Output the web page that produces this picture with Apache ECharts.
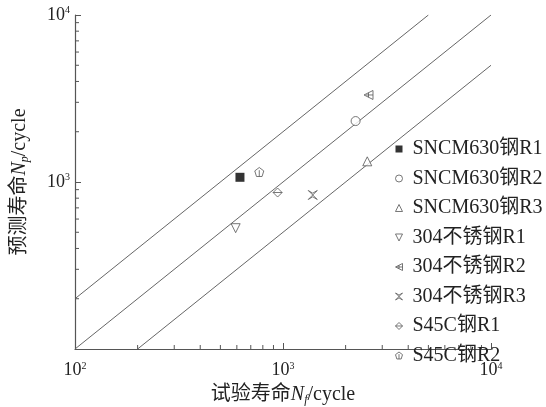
<!DOCTYPE html>
<html>
<head>
<meta charset="utf-8">
<script src="https://cdn.jsdelivr.net/npm/echarts@6/dist/echarts.min.js"></script>
<style>
  html, body { margin: 0; padding: 0; background: #fff; }
  #chart { width: 546px; height: 407px; }
</style>
</head>
<body>
<div id="chart"></div>
<script>
// Test life Nf vs predicted life Np, one array per material / method
const sncmR1 = [[621, 1067]];
const sncmR2 = [[2234, 2317]];
const sncmR3 = [[2542, 1330]];
const s304R1 = [[592, 529]];
const s304R2 = [[2577, 3320]];
const s304R3 = [[1390, 836]];
const s45cR1 = [[942, 865]];
const s45cR2 = [[769, 1148]];

// Series names (legend order)
const seriesNames = ['SNCM630钢R1', 'SNCM630钢R2', 'SNCM630钢R3', '304不锈钢R1', '304不锈钢R2', '304不锈钢R3', 'S45C钢R1', 'S45C钢R2'];

// Scatter-band lines: Np = 2Nf, Np = Nf, Np = Nf/2
const bandUpper = [[100, 200], [5000, 10000]];
const bandMiddle = [[100, 100], [10000, 10000]];
const bandLower = [[200, 100], [10000, 5000]];

// Axis ranges and minor tick positions
const axisMin = 100;
const axisMax = 10000;
const minorTicks = [200, 300, 400, 500, 600, 700, 800, 900, 2000, 3000, 4000, 5000, 6000, 7000, 8000, 9000];

const FONT = '"Liberation Serif", "Times New Roman", "Noto Sans CJK SC", serif';
const AXIS_COLOR = '#555';
const MARK_COLOR = '#555';

// Marker shapes
const SYM = {
  sq: 'rect',
  circ: 'circle',
  triUp: 'path://M5,0 L10,10 L0,10 Z',
  triDown: 'path://M0,0 L10,0 L5,10 Z',
  triLeft: 'path://M0,5 L10,0 L10,10 Z M5,2.5 L5,7.5 M2,5 L10,5',
  bow: 'path://M0,0 L10,10 M10,0 L0,10 M0,0 L5,3 L10,0 M0,10 L5,7 L10,10',
  dia: 'path://M5,0 L10,5 L5,10 L0,5 Z M0,5 L10,5',
  pent: 'path://M5,0 L10,3.8 L8.1,10 L1.9,10 L0,3.8 Z M5,3 L5,10'
};
const symbolOrder = [SYM.sq, SYM.circ, SYM.triUp, SYM.triDown, SYM.triLeft, SYM.bow, SYM.dia, SYM.pent];

const chart = echarts.init(document.getElementById('chart'), null, { renderer: 'canvas' });

function expLabel(v) {
  return '10{sup|' + Math.round(Math.log10(v)) + '}';
}

const labelRich = {
  sup: { fontFamily: FONT, fontSize: 10, color: '#222', verticalAlign: 'top', padding: [0, 0, 9, 0] }
};

const nameRich = {
  i: { fontFamily: FONT, fontSize: 20, fontStyle: 'italic', color: '#222' },
  sub: { fontFamily: FONT, fontSize: 12, fontStyle: 'italic', color: '#222', padding: [11, 0, 0, 0] }
};

function axisCommon() {
  return {
    type: 'log',
    logBase: 10,
    min: axisMin,
    max: axisMax,
    axisLine: { show: true, lineStyle: { color: AXIS_COLOR, width: 1.2 } },
    axisTick: { show: true, inside: true, length: 6, lineStyle: { color: AXIS_COLOR, width: 1 } },
    splitLine: { show: false },
    axisLabel: {
      formatter: expLabel,
      fontFamily: FONT,
      fontSize: 18,
      color: '#222',
      rich: labelRich
    }
  };
}

const xAxis = Object.assign(axisCommon(), {
  name: '试验寿命{i|N}{sub|f}/cycle',
  nameLocation: 'middle',
  nameGap: 34,
  nameTextStyle: { fontFamily: FONT, fontSize: 20, color: '#222', rich: nameRich }
});
xAxis.axisLabel.margin = 12;

const yAxis = Object.assign(axisCommon(), {
  name: '预测寿命{i|N}{sub|p}/cycle',
  nameLocation: 'middle',
  nameGap: 44,
  nameTextStyle: { fontFamily: FONT, fontSize: 20, color: '#222', rich: nameRich }
});
yAxis.axisLabel.margin = 5;
// the shared origin is labelled once, on the x axis
yAxis.axisLabel.showMinLabel = false;

function bandLine(data) {
  return {
    type: 'line',
    data: data,
    symbol: 'none',
    silent: true,
    lineStyle: { color: '#666', width: 1 },
    legendHoverLink: false,
    z: 1
  };
}

function pointSeries(name, data, symbol, opts) {
  return Object.assign({
    name: name,
    type: 'scatter',
    data: data,
    symbol: symbol,
    symbolSize: 9,
    itemStyle: { color: '#fff', borderColor: MARK_COLOR, borderWidth: 1 },
    z: 3
  }, opts || {});
}

// Minor ticks drawn through the axis scales
const minorTickSeries = {
  type: 'custom',
  silent: true,
  clip: false,
  data: minorTicks.map(v => [v]),
  renderItem: function (params, api) {
    const v = api.value(0);
    const px = api.coord([v, axisMin]);
    const py = api.coord([axisMin, v]);
    const style = { stroke: AXIS_COLOR, lineWidth: 1 };
    return {
      type: 'group',
      children: [
        { type: 'line', shape: { x1: px[0], y1: px[1], x2: px[0], y2: px[1] - 4 }, style: style },
        { type: 'line', shape: { x1: py[0], y1: py[1], x2: py[0] + 4, y2: py[1] }, style: style }
      ]
    };
  },
  z: 2
};

// Legend entries: small outlined icons, the first one solid black
const legendData = seriesNames.map((name, i) => ({
  name: name,
  icon: symbolOrder[i],
  itemStyle: i === 0
    ? { color: '#000', borderColor: '#000', borderWidth: 0 }
    : { color: '#fff', borderColor: MARK_COLOR, borderWidth: 1 }
}));

const option = {
  backgroundColor: '#fff',
  animation: false,
  grid: { left: 75, right: 55, top: 15, bottom: 58, containLabel: false, outerBoundsMode: 'none' },
  xAxis: xAxis,
  yAxis: yAxis,
  legend: {
    orient: 'vertical',
    left: 395,
    top: 139,
    padding: 0,
    itemWidth: 7,
    itemHeight: 7,
    itemGap: 9.5,
    textStyle: { fontFamily: FONT, fontSize: 20, color: '#222', lineHeight: 19, padding: [0, 0, 0, 5] },
    data: legendData
  },
  series: [
    bandLine(bandUpper),
    bandLine(bandMiddle),
    bandLine(bandLower),
    minorTickSeries,
    pointSeries(seriesNames[0], sncmR1, SYM.sq, {
      symbolSize: 9,
      itemStyle: { color: '#000', borderColor: '#000', borderWidth: 0 }
    }),
    pointSeries(seriesNames[1], sncmR2, SYM.circ),
    pointSeries(seriesNames[2], sncmR3, SYM.triUp),
    pointSeries(seriesNames[3], s304R1, SYM.triDown),
    pointSeries(seriesNames[4], s304R2, SYM.triLeft),
    pointSeries(seriesNames[5], s304R3, SYM.bow),
    pointSeries(seriesNames[6], s45cR1, SYM.dia),
    pointSeries(seriesNames[7], s45cR2, SYM.pent)
  ]
};

chart.setOption(option);
</script>
</body>
</html>
